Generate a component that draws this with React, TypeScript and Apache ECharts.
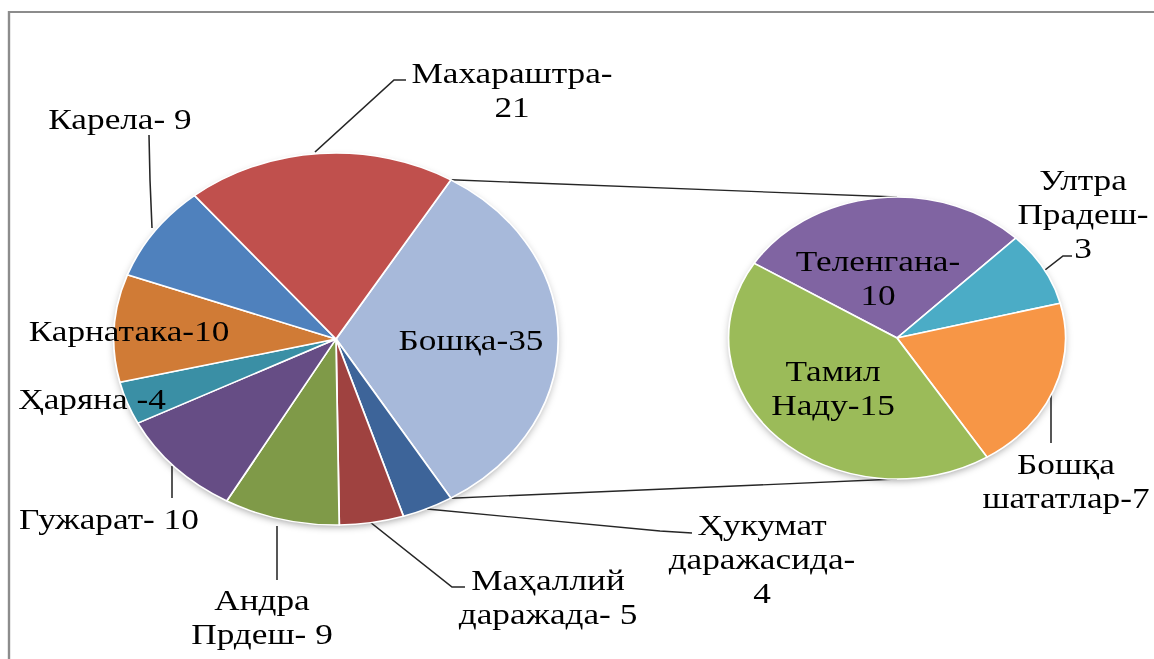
import React, { useEffect, useRef } from 'react';
import * as echarts from 'echarts';

// ---- data ----
const leftNames = ['Бошқа', 'Ҳукумат\nдаражасида', 'Маҳаллий\nдаражада', 'Андра\nПрдеш', 'Гужарат', 'Ҳаряна', 'Карнатака', 'Карела', 'Махараштра'];
const leftSeps = ['-', '-\n', '- ', '- ', '- ', ' -', '-', '- ', '-\n'];
const leftValues = [35, 4, 5, 9, 10, 4, 10, 9, 21];
const leftColors = ['#A7B9DA', '#3D6499', '#9F4240', '#7F9A48', '#664D85', '#3A8FA5', '#D07B36', '#4F81BD', '#C0504D'];

const rightNames = ['Теленгана', 'Ултра\nПрадеш', 'Бошқа\nшататлар', 'Тамил\nНаду'];
const rightSeps = ['-\n', '-\n', '-', '-'];
const rightValues = [10, 3, 7, 15];
const rightColors = ['#8064A2', '#4BACC6', '#F79646', '#9BBB59'];

// ---- layout (page pixel coords) ----
const S = 1.195; // horizontal stretch of the picture
const VIEW_W = 1154;
const VIEW_H = 659;
const INNER_W = VIEW_W / S;

const L = { cx: 336, cy: 339, r: 186 };
const R = { cx: 897, cy: 338, r: 141, startAngle: 148 };

type Spot = { x: number; y: number; inside?: boolean; line?: number[][] };
const leftSpots: Spot[] = [
  { x: 471, y: 340, inside: true },
  { x: 762, y: 559, line: [[427, 509], [660, 531], [692, 533]] },
  { x: 548, y: 597, line: [[370, 522], [452, 587], [465, 587]] },
  { x: 262, y: 617, line: [[277, 526], [277, 553], [277, 580]] },
  { x: 109, y: 519, line: [[172, 466], [172, 482], [172, 498]] },
  { x: 92, y: 399, inside: true },
  { x: 129, y: 331, inside: true },
  { x: 120, y: 119, line: [[152, 228], [150, 180], [149, 135]] },
  { x: 512, y: 90, line: [[315, 152], [394, 80], [406, 80]] },
];
const rightSpots: Spot[] = [
  { x: 878, y: 278, inside: true },
  { x: 1083, y: 214, line: [[1045, 270], [1063, 256], [1072, 256]] },
  { x: 1066, y: 481, line: [[1051, 393], [1051, 418], [1051, 443]] },
  { x: 833, y: 388, inside: true },
];

const FONT = 'Liberation Serif, DejaVu Serif, serif';
const INK = '#000000';
const LINE_INK = '#262626';

function makeData(names: string[], values: number[], colors: string[], spots: Spot[]) {
  return values.map((v, i) => ({
    name: names[i],
    value: v,
    itemStyle: { color: colors[i] },
    label: { position: spots[i].inside ? 'inside' : 'outside', fontFamily: FONT },
    labelLine: { show: !spots[i].inside },
  }));
}

function makeLayout(spots: Spot[]) {
  return (p: any) => {
    const s = spots[p.dataIndex];
    const out: any = { x: s.x / S, y: s.y, align: 'center', verticalAlign: 'middle' };
    if (s.line) out.labelLinePoints = s.line.map(([x, y]) => [x / S, y]);
    return out;
  };
}

export default function App() {
  const ref = useRef<HTMLDivElement>(null);
  useEffect(() => {
    if (!ref.current) return;
    const chart = echarts.init(ref.current, undefined, { renderer: 'svg' });
    const leftSum = leftValues.reduce((a, b) => a + b, 0);
    const half = (leftValues[0] / leftSum) * Math.PI; // half-span of "other" slice
    const lcx = L.cx / S;
    const rcx = R.cx / S;
    const topL = [lcx + L.r * Math.cos(half), L.cy - L.r * Math.sin(half)];
    const botL = [lcx + L.r * Math.cos(half), L.cy + L.r * Math.sin(half)];

    const labelBase = {
      show: true,
      fontFamily: FONT,
      fontSize: 29.5,
      lineHeight: 34,
      color: INK,
      textBorderWidth: 0,
    };
    const lineStyle = { color: LINE_INK, width: 1.3 };
    const shadow = {
      fill: '#ffffff',
      shadowBlur: 7,
      shadowColor: 'rgba(0,0,0,0.35)',
      shadowOffsetX: 0,
      shadowOffsetY: 3,
    };

    chart.setOption({
      animation: false,
      backgroundColor: '#ffffff',
      textStyle: { fontFamily: FONT },
      graphic: [
        {
          type: 'rect',
          shape: { x: 9 / S, y: 12, width: 2000, height: 2000 },
          style: { fill: 'none', stroke: '#8c8c8c', lineWidth: 2 },
          silent: true,
          z: 0,
        },
        {
          type: 'circle',
          shape: { cx: lcx, cy: L.cy, r: L.r - 1 },
          style: shadow,
          silent: true,
          z: 0,
        },
        {
          type: 'circle',
          shape: { cx: rcx, cy: R.cy, r: R.r - 1 },
          style: shadow,
          silent: true,
          z: 0,
        },
        {
          type: 'line',
          shape: { x1: topL[0], y1: topL[1], x2: rcx, y2: R.cy - R.r },
          style: { stroke: LINE_INK, lineWidth: 1.3 },
          silent: true,
        },
        {
          type: 'line',
          shape: { x1: botL[0], y1: botL[1], x2: rcx, y2: R.cy + R.r },
          style: { stroke: LINE_INK, lineWidth: 1.3 },
          silent: true,
        },
      ],
      series: [
        {
          type: 'pie',
          center: [lcx, L.cy],
          radius: L.r,
          startAngle: (leftValues[0] / leftSum) * 180,
          clockwise: true,
          avoidLabelOverlap: false,
          silent: true,
          z: 3,
          itemStyle: { borderColor: '#ffffff', borderWidth: 1.5 },
          label: { ...labelBase, formatter: (p: any) => leftNames[p.dataIndex] + leftSeps[p.dataIndex] + p.value },
          labelLine: { show: true, lineStyle },
          labelLayout: makeLayout(leftSpots),
          data: makeData(leftNames, leftValues, leftColors, leftSpots),
        },
        {
          type: 'pie',
          center: [rcx, R.cy],
          radius: R.r,
          startAngle: R.startAngle,
          clockwise: true,
          avoidLabelOverlap: false,
          silent: true,
          z: 3,
          itemStyle: { borderColor: '#ffffff', borderWidth: 1.5 },
          label: { ...labelBase, formatter: (p: any) => rightNames[p.dataIndex] + rightSeps[p.dataIndex] + p.value },
          labelLine: { show: true, lineStyle },
          labelLayout: makeLayout(rightSpots),
          data: makeData(rightNames, rightValues, rightColors, rightSpots),
        },
      ],
    });
    return () => chart.dispose();
  }, []);

  return (
    <div
      style={{
        position: 'fixed',
        left: 0,
        top: 0,
        width: VIEW_W,
        height: VIEW_H,
        overflow: 'hidden',
        background: '#ffffff',
      }}
    >
      <div
        ref={ref}
        style={{
          width: INNER_W,
          height: VIEW_H,
          transform: `scaleX(${S})`,
          transformOrigin: '0 0',
        }}
      />
    </div>
  );
}
